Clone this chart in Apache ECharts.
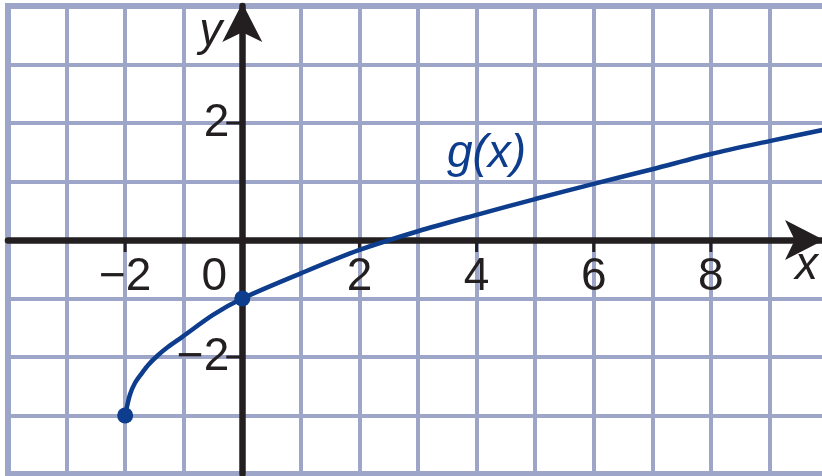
<!DOCTYPE html>
<html>
<head>
<meta charset="utf-8">
<script src="https://cdn.jsdelivr.net/npm/echarts@6/dist/echarts.min.js"></script>
<style>
  html, body { margin: 0; padding: 0; background: #ffffff; }
  #chart { width: 822px; height: 476px; }
</style>
</head>
<body>
<div id="chart"></div>
<script>
// g(x): points along the curve
const curveX = [-2, -1.92, -1.83, -1.71, -1.61, -1.44, -1.27, -1.03, -0.5, 0, 1, 2, 3, 4, 5, 6, 7, 8, 9, 10];
const curveY = [-3, -2.65, -2.44, -2.27, -2.14, -1.97, -1.83, -1.66, -1.28, -1, -0.57, -0.17, 0.15, 0.43, 0.7, 0.96, 1.21, 1.47, 1.69, 1.9];

// closed endpoints drawn as dots
const dotX = [-2, 0];
const dotY = [-3, -1];

// tick marks and their labels
const xTickValues = [-2, 2, 4, 6, 8];
const yTickValues = [-2, 2];
const xLabelValues = [-2, 0, 2, 4, 6, 8];
const yLabelValues = [-2, 2];

// curve name and where it sits
const curveName = 'g(x)';
const curveNameX = [4.17];
const curveNameY = [1.47];

const gridColor = '#9da5c9';
const axisColor = '#231f20';
const curveColor = '#0d3d8c';
const font = 'Liberation Sans';
const fontSize = 46;

function fmt(v) {
  return v < 0 ? '\u2212' + Math.abs(v) : String(v);
}

function tickRenderer(dim, len) {
  return function (params, api) {
    const p = api.coord([api.value(0), api.value(1)]);
    const shape = dim === 'x'
      ? { x1: p[0], y1: p[1], x2: p[0], y2: p[1] + len }
      : { x1: p[0], y1: p[1], x2: p[0] - len, y2: p[1] };
    return { type: 'line', shape: shape, style: { stroke: axisColor, lineWidth: 3 } };
  };
}

const labelText = { fontFamily: font, fontSize: fontSize, color: axisColor, opacity: 1 };

const chart = echarts.init(document.getElementById('chart'), null, { renderer: 'canvas' });

chart.setOption({
  animation: false,
  backgroundColor: '#ffffff',
  grid: {
    left: 8, right: -6, top: 6, bottom: 2,
    containLabel: false, outerBoundsMode: 'none',
    show: true, borderColor: gridColor, borderWidth: 6, backgroundColor: 'transparent'
  },
  xAxis: {
    type: 'value', min: -4, max: 10, interval: 1,
    name: 'x', nameLocation: 'end', nameGap: -10,
    nameTextStyle: {
      fontFamily: font, fontSize: fontSize, fontStyle: 'italic', color: axisColor,
      align: 'right', verticalAlign: 'top', padding: [3, 0, 0, 0]
    },
    axisLine: {
      onZero: true,
      lineStyle: { color: axisColor, width: 6.5 },
      symbol: ['none', 'arrow'], symbolSize: [30, 39], symbolOffset: [0, -4]
    },
    axisTick: { show: false },
    axisLabel: { show: false },
    splitLine: { show: true, lineStyle: { color: gridColor, width: 4 } }
  },
  yAxis: {
    type: 'value', min: -4, max: 4, interval: 1,
    name: 'y', nameLocation: 'end', nameGap: -3,
    nameTextStyle: {
      fontFamily: font, fontSize: fontSize, fontStyle: 'italic', color: axisColor,
      align: 'right', verticalAlign: 'top', padding: [0, 20, 0, 0]
    },
    axisLine: {
      onZero: true,
      lineStyle: { color: axisColor, width: 6.5 },
      symbol: ['none', 'arrow'], symbolSize: [30, 39], symbolOffset: [0, 3]
    },
    axisTick: { show: false },
    axisLabel: { show: false },
    splitLine: { show: true, lineStyle: { color: gridColor, width: 4 } }
  },
  series: [
    {
      type: 'custom', name: 'xTicks', silent: true,
      renderItem: tickRenderer('x', 12),
      data: xTickValues.map(function (v) { return [v, 0]; }),
      z: 1
    },
    {
      type: 'custom', name: 'yTicks', silent: true,
      renderItem: tickRenderer('y', 16),
      data: yTickValues.map(function (v) { return [0, v]; }),
      z: 1
    },
    {
      // x tick labels, hung below the x axis; the origin label sits left of the y axis
      type: 'scatter', name: 'xLabels', silent: true, symbolSize: 0,
      itemStyle: { opacity: 1 },
      data: xLabelValues.map(function (v) {
        const item = { value: [v, 0] };
        if (v === 0) item.label = { offset: [-28, 0] };
        return item;
      }),
      label: Object.assign({
        show: true, position: 'bottom', distance: 14,
        formatter: function (p) { return fmt(p.value[0]); }
      }, labelText),
      z: 5
    },
    {
      // y tick labels, left of the y axis
      type: 'scatter', name: 'yLabels', silent: true, symbolSize: 0,
      itemStyle: { opacity: 1 },
      data: yLabelValues.map(function (v) { return [0, v]; }),
      label: Object.assign({
        show: true, position: 'left', distance: 13,
        formatter: function (p) { return fmt(p.value[1]); }
      }, labelText),
      z: 5
    },
    {
      type: 'line', name: curveName, smooth: 0.3,
      showSymbol: false, silent: true,
      lineStyle: { color: curveColor, width: 4.5 },
      data: curveX.map(function (x, i) { return [x, curveY[i]]; }),
      z: 3
    },
    {
      type: 'scatter', name: 'endpoints', silent: true,
      symbol: 'circle', symbolSize: 16,
      itemStyle: { color: curveColor, opacity: 1 },
      data: dotX.map(function (x, i) { return [x, dotY[i]]; }),
      z: 4
    },
    {
      type: 'scatter', name: 'curveName', silent: true,
      symbolSize: 0,
      itemStyle: { opacity: 1 },
      data: curveNameX.map(function (x, i) { return [x, curveNameY[i]]; }),
      label: {
        show: true, position: 'inside', formatter: curveName, opacity: 1,
        fontFamily: font, fontSize: fontSize, fontStyle: 'italic', color: curveColor
      },
      z: 4
    }
  ]
});
</script>
</body>
</html>
